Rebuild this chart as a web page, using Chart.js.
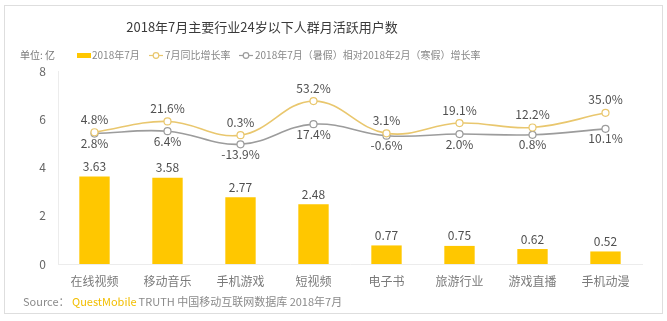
<!DOCTYPE html>
<html>
<head>
<meta charset="utf-8">
<script src="https://cdn.jsdelivr.net/npm/chart.js@4/dist/chart.umd.min.js"></script>
<style>
  html, body { margin: 0; padding: 0; background: #fff; }
</style>
</head>
<body>
<canvas id="mauChart" width="667" height="321"></canvas>
<script>
// 2018年7月主要行业24岁以下人群月活跃用户数
const categories = ['在线视频', '移动音乐', '手机游戏', '短视频', '电子书', '旅游行业', '游戏直播', '手机动漫'];
const mau = [3.63, 3.58, 2.77, 2.48, 0.77, 0.75, 0.62, 0.52];          // 亿
const yoyGrowth = [4.8, 21.6, 0.3, 53.2, 3.1, 19.1, 12.2, 35.0];       // 7月同比增长率 %
const summerGrowth = [2.8, 6.4, -13.9, 17.4, -0.6, 2.0, 0.8, 10.1];    // 暑假相对寒假 %
const seriesNames = ['2018年7月', '7月同比增长率', '2018年7月（暑假）相对2018年2月（寒假）增长率'];
const yTicks = [0, 2, 4, 6, 8];

const FONT = "'Noto Sans CJK SC', 'Noto Sans', sans-serif";
const barColor = '#FFC700';
const goldLine = '#E9C76E';
const grayLine = '#9C9C9C';

// draws title, legend, value labels, source and the frame
const decorPlugin = {
    id: 'decor',
    beforeDraw: (chart) => {
        const ctx = chart.ctx;
        ctx.save();
        ctx.fillStyle = '#fff';
        ctx.fillRect(0, 0, chart.width, chart.height);
        ctx.strokeStyle = '#dedede';
        ctx.lineWidth = 1;
        ctx.strokeRect(4.5, 5.5, 658, 308);
        ctx.restore();
    },
    afterDatasetsDraw: (chart) => {
        const ctx = chart.ctx;
        ctx.save();
        ctx.textAlign = 'center';
        ctx.textBaseline = 'middle';
        ctx.font = '12px ' + FONT;
        ctx.fillStyle = '#505050';

        // bar values
        chart.getDatasetMeta(0).data.forEach((bar, i) => {
            ctx.fillText(mau[i].toFixed(2), bar.x, bar.y - 10);
        });
        // growth labels: gold above, gray below
        chart.getDatasetMeta(1).data.forEach((pt, i) => {
            ctx.fillText(yoyGrowth[i].toFixed(1) + '%', pt.x, pt.y - 13);
        });
        chart.getDatasetMeta(2).data.forEach((pt, i) => {
            ctx.fillText(summerGrowth[i].toFixed(1) + '%', pt.x, pt.y + 10);
        });
        ctx.restore();
    },
    afterDraw: (chart) => {
        const ctx = chart.ctx;
        ctx.save();
        ctx.textBaseline = 'middle';

        // title
        ctx.textAlign = 'center';
        ctx.fillStyle = '#3a3a3a';
        ctx.font = '13px ' + FONT;
        ctx.fillText('2018年7月主要行业24岁以下人群月活跃用户数', 262, 27);

        // unit + legend
        ctx.textAlign = 'left';
        ctx.font = '10px ' + FONT;
        ctx.fillStyle = '#777';
        ctx.fillText('单位: 亿', 20, 55);

        ctx.fillStyle = barColor;
        ctx.fillRect(77, 53, 14, 5);
        ctx.fillStyle = '#888';
        ctx.fillText(seriesNames[0], 92, 55);

        const lineKey = (x, color, label) => {
            ctx.strokeStyle = color;
            ctx.lineWidth = 1.2;
            ctx.beginPath();
            ctx.moveTo(x, 55.5);
            ctx.lineTo(x + 14, 55.5);
            ctx.stroke();
            ctx.fillStyle = '#fff';
            ctx.beginPath();
            ctx.arc(x + 7, 55.5, 2.8, 0, Math.PI * 2);
            ctx.fill();
            ctx.stroke();
            ctx.fillStyle = '#888';
            ctx.fillText(label, x + 16, 55);
        };
        lineKey(149, goldLine, seriesNames[1]);
        lineKey(239, grayLine, seriesNames[2]);

        // source
        ctx.font = '11px ' + FONT;
        let x = 23;
        ctx.fillStyle = '#8a8a8a';
        ctx.fillText('Source：', x, 302);
        x = 72;
        ctx.fillStyle = '#F2BE00';
        ctx.fillText('QuestMobile', x, 302);
        x += ctx.measureText('QuestMobile').width + 2;
        ctx.fillStyle = '#8a8a8a';
        ctx.fillText('TRUTH 中国移动互联网数据库 2018年7月', x, 302);
        ctx.restore();
    }
};

const ctx = document.getElementById('mauChart');
const mauChart = new Chart(ctx, {
    data: {
        labels: categories,
        datasets: [{
            type: 'bar',
            label: seriesNames[0],
            data: mau,
            backgroundColor: barColor,
            barPercentage: 0.52,
            categoryPercentage: 0.8,
            yAxisID: 'y',
            order: 2
        }, {
            type: 'line',
            label: seriesNames[1],
            data: yoyGrowth,
            borderColor: goldLine,
            borderWidth: 1.6,
            tension: 0.4,
            pointRadius: 3.5,
            pointBackgroundColor: '#fff',
            pointBorderColor: goldLine,
            pointBorderWidth: 1.2,
            yAxisID: 'y1',
            order: 0
        }, {
            type: 'line',
            label: seriesNames[2],
            data: summerGrowth,
            borderColor: grayLine,
            borderWidth: 1.6,
            tension: 0.4,
            pointRadius: 3.5,
            pointBackgroundColor: '#fff',
            pointBorderColor: grayLine,
            pointBorderWidth: 1.2,
            yAxisID: 'y1',
            order: 1
        }]
    },
    options: {
        responsive: false,
        animation: false,
        layout: {
            padding: { left: 28, right: 25, top: 71, bottom: 31 }
        },
        plugins: {
            legend: { display: false },
            title: { display: false },
            tooltip: { enabled: false }
        },
        scales: {
            x: {
                grid: { display: false, drawTicks: false, tickLength: 0 },
                border: { color: '#ececec' },
                ticks: {
                    color: '#7a7a7a',
                    padding: 10,
                    font: { family: FONT, size: 12 }
                },
                afterFit: (axis) => { axis.height = 26; }
            },
            y: {
                min: 0,
                max: 8,
                grid: { display: false, drawTicks: false, tickLength: 0 },
                border: { color: '#ececec' },
                afterBuildTicks: (axis) => { axis.ticks = yTicks.map(v => ({ value: v })); },
                ticks: {
                    color: '#666',
                    padding: 12,
                    font: { family: FONT, size: 12 }
                },
                afterFit: (axis) => { axis.width = 30; }
            },
            y1: {
                display: false,
                min: -200,
                max: 100
            }
        }
    },
    plugins: [decorPlugin]
});
</script>
</body>
</html>
